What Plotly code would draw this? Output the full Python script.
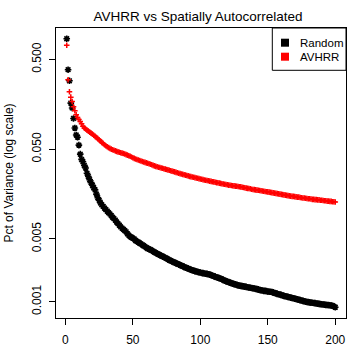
import plotly.graph_objects as go

# Component index
components = list(range(1, 201))

# Percent of variance, "Random" (spatially autocorrelated) series
random_pct = [
    0.85, 0.384, 0.289, 0.163, 0.144, 0.110, 0.086, 0.072, 0.068, 0.0555,
    0.0440, 0.0385, 0.0362, 0.0330, 0.0308, 0.0270, 0.0248, 0.0228, 0.0212, 0.0198,
    0.0186, 0.0176, 0.0158, 0.0144, 0.0135, 0.0126, 0.0120, 0.0115, 0.0110, 0.0106,
    0.0102, 0.0098, 0.0095, 0.0091, 0.0087, 0.0084, 0.0081, 0.0077, 0.0074, 0.0071,
    0.0068, 0.0066, 0.0064, 0.0062, 0.0060, 0.0057, 0.0055, 0.0053, 0.0052, 0.0051,
    0.0050, 0.0048, 0.0047, 0.0046, 0.0045, 0.0044, 0.0043, 0.0042, 0.0041, 0.0040,
    0.0039, 0.00385, 0.0038, 0.00372, 0.00364, 0.00356, 0.00350, 0.00343, 0.00337, 0.00331,
    0.00325, 0.00320, 0.00314, 0.00309, 0.00303, 0.00297, 0.00291, 0.00286, 0.00281, 0.00277,
    0.00273, 0.00268, 0.00264, 0.00260, 0.00256, 0.00252, 0.00248, 0.00244, 0.00240, 0.00237,
    0.00234, 0.00230, 0.00227, 0.00224, 0.00222, 0.00219, 0.00217, 0.00215, 0.00213, 0.00211,
    0.00209, 0.00208, 0.00206, 0.00205, 0.00204, 0.00202, 0.00200, 0.00198, 0.00195, 0.00192,
    0.00190, 0.00187, 0.00185, 0.00183, 0.00181, 0.00178, 0.00175, 0.00172, 0.00169, 0.00167,
    0.00165, 0.00163, 0.00161, 0.00159, 0.00157, 0.00156, 0.00154, 0.00152, 0.00151, 0.00150,
    0.00149, 0.00148, 0.00147, 0.00146, 0.00145, 0.00144, 0.00143, 0.00142, 0.00141, 0.00140,
    0.00139, 0.00138, 0.00137, 0.00135, 0.00134, 0.00133, 0.00132, 0.00132, 0.00131, 0.00130,
    0.00129, 0.00129, 0.00128, 0.00127, 0.00125, 0.00124, 0.00122, 0.00121, 0.00120, 0.00119,
    0.00117, 0.00116, 0.00115, 0.00114, 0.00113, 0.00112, 0.00111, 0.00110, 0.00109, 0.00108,
    0.00107, 0.00106, 0.00105, 0.00104, 0.00103, 0.00102, 0.00101, 0.00100, 0.000993, 0.000987,
    0.000981, 0.000976, 0.000972, 0.000968, 0.000962, 0.000955, 0.000950, 0.000945, 0.000940, 0.000935,
    0.000930, 0.000926, 0.000922, 0.000919, 0.000916, 0.000913, 0.000908, 0.000900, 0.000885, 0.000866,
]

# Percent of variance, AVHRR series
avhrr_pct = [
    0.72, 0.297, 0.218, 0.190, 0.170, 0.148, 0.134, 0.121, 0.113, 0.107,
    0.102, 0.096, 0.090, 0.086, 0.084, 0.0815, 0.0795, 0.0775, 0.0755, 0.0735,
    0.0715, 0.0695, 0.0675, 0.0655, 0.0635, 0.0615, 0.0595, 0.0578, 0.0560, 0.0545,
    0.0532, 0.0520, 0.0510, 0.0500, 0.0493, 0.0486, 0.0479, 0.0473, 0.0467, 0.0462,
    0.0457, 0.0452, 0.0447, 0.0441, 0.0435, 0.0429, 0.0423, 0.0417, 0.0409, 0.0401,
    0.0395, 0.0389, 0.0384, 0.0379, 0.0374, 0.0369, 0.0364, 0.0360, 0.0356, 0.0352,
    0.0348, 0.0344, 0.0340, 0.0335, 0.0330, 0.0326, 0.0322, 0.0319, 0.0315, 0.0312,
    0.0309, 0.0306, 0.0303, 0.0300, 0.0297, 0.0294, 0.0291, 0.0288, 0.0285, 0.0282,
    0.0279, 0.0276, 0.0273, 0.0270, 0.0267, 0.0264, 0.0262, 0.0259, 0.0257, 0.0254,
    0.0252, 0.0249, 0.0247, 0.0245, 0.0243, 0.0241, 0.0239, 0.0237, 0.0235, 0.0233,
    0.0231, 0.0229, 0.0227, 0.0225, 0.0224, 0.0222, 0.0220, 0.0219, 0.0217, 0.0216,
    0.0214, 0.0212, 0.0211, 0.0209, 0.0208, 0.0206, 0.0205, 0.0203, 0.0202, 0.0201,
    0.0199, 0.0198, 0.0197, 0.0196, 0.0195, 0.0194, 0.0193, 0.0192, 0.0191, 0.0190,
    0.0188, 0.0187, 0.0186, 0.0184, 0.0183, 0.0182, 0.0181, 0.0179, 0.0178, 0.0177,
    0.0176, 0.0175, 0.0174, 0.0173, 0.0172, 0.0171, 0.0170, 0.0169, 0.0168, 0.0167,
    0.0166, 0.0165, 0.0164, 0.0163, 0.0162, 0.0161, 0.0160, 0.0159, 0.0158, 0.0157,
    0.0156, 0.0155, 0.0154, 0.0153, 0.0152, 0.0151, 0.0150, 0.0149, 0.0149, 0.0148,
    0.0147, 0.0146, 0.0146, 0.0145, 0.0144, 0.0143, 0.0143, 0.0142, 0.0141, 0.0140,
    0.0140, 0.0139, 0.0138, 0.0138, 0.0137, 0.0137, 0.0136, 0.0136, 0.0135, 0.0135,
    0.0134, 0.0133, 0.0133, 0.0132, 0.0132, 0.0131, 0.0131, 0.0130, 0.0130, 0.0129,
]

x_ticks = [0, 50, 100, 150, 200]
y_ticks = [0.001, 0.005, 0.05, 0.5]
y_tick_labels = ["0.001", "0.005", "0.050", "0.500"]
legend_names = ["Random", "AVHRR"]
series_colors = ["black", "red"]

FONT = "Liberation Sans, Arial, sans-serif"

# plot-area geometry in pixels
W = H = 360
ML, MR, MT, MB = 56, 14, 28, 42
PW, PH = W - ML - MR, H - MT - MB


def px(xp):
    return (xp - ML) / PW


def py(yp):
    return (H - MB - yp) / PH


fig = go.Figure()
fig.add_trace(go.Scatter(
    x=components, y=random_pct, mode="markers", name=legend_names[0],
    showlegend=False,
    marker=dict(symbol="asterisk-open", size=5.5, color=series_colors[0],
                line=dict(color=series_colors[0], width=1.6)),
))
fig.add_trace(go.Scatter(
    x=components, y=avhrr_pct, mode="markers", name=legend_names[1],
    showlegend=False,
    marker=dict(symbol="cross-thin-open", size=4, color=series_colors[1],
                line=dict(color=series_colors[1], width=1.5)),
))

axis_common = dict(
    showgrid=False, zeroline=False, showline=True, mirror=True,
    linecolor="black", linewidth=1, ticks="outside", ticklen=6,
    tickcolor="black", tickwidth=1, automargin=False,
    tickfont=dict(family=FONT, size=12, color="black"),
)

# legend box (R-style, drawn inside the top-right corner of the plot)
shapes = [dict(type="rect", xref="paper", yref="paper",
               x0=px(272.3), x1=1.0, y0=py(70.3), y1=1.0,
               line=dict(color="black", width=1), fillcolor="white", layer="above")]
annotations = []
for i, (name, col) in enumerate(zip(legend_names, series_colors)):
    yc = 42.7 + 14 * i
    shapes.append(dict(type="rect", xref="paper", yref="paper",
                       x0=px(281), x1=px(289), y0=py(yc + 4), y1=py(yc - 4),
                       line=dict(color=col, width=0), fillcolor=col, layer="above"))
    annotations.append(dict(text=name, xref="paper", yref="paper",
                            x=px(297.5), y=py(yc), xanchor="left", yanchor="middle",
                            showarrow=False,
                            font=dict(family=FONT, size=11.5, color="black")))

fig.update_layout(
    width=W, height=H,
    margin=dict(l=ML, r=MR, t=MT, b=MB, autoexpand=False),
    paper_bgcolor="white", plot_bgcolor="white",
    font=dict(family=FONT, color="black"),
    showlegend=False,
    title=dict(text="AVHRR vs Spatially Autocorrelated",
               font=dict(family=FONT, size=13.5, color="black"),
               x=198 / W, xref="container", xanchor="center",
               y=1 - 16 / H, yref="container", yanchor="middle"),
    xaxis=dict(range=[-6.96, 207.96], tickvals=x_ticks,
               ticklabelstandoff=5, **axis_common),
    yaxis=dict(type="log", range=[-3.182, 0.049], tickvals=y_ticks,
               ticktext=y_tick_labels, tickangle=-90, ticklabelstandoff=3,
               title=dict(text="Pct of Variance (log scale)",
                          font=dict(family=FONT, size=12, color="black"),
                          standoff=14),
               **axis_common),
    shapes=shapes,
    annotations=annotations,
)

fig.write_html(
    "out.html",
    config={"displayModeBar": False},
    post_script="document.body.style.margin='0';document.body.style.overflow='hidden';",
)
